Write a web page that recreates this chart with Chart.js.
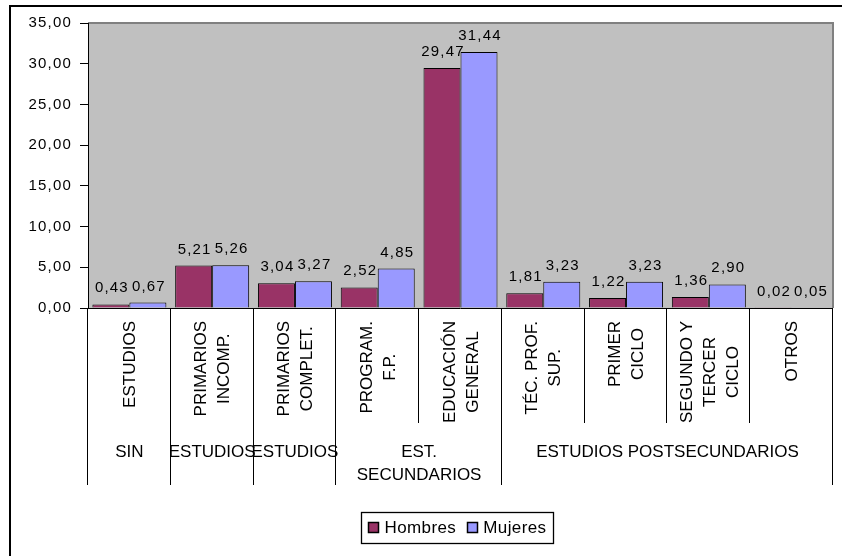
<!DOCTYPE html>
<html><head><meta charset="utf-8">
<script src="https://cdn.jsdelivr.net/npm/chart.js@4.4.0/dist/chart.umd.min.js"></script>
<style>html,body{margin:0;padding:0;background:#fff;}#wrap{width:842px;height:556px;position:relative;}</style>
</head><body><div id="wrap"><canvas id="c" width="842" height="556"></canvas></div>
<script>
const categories = [["ESTUDIOS"],["PRIMARIOS","INCOMP."],["PRIMARIOS","COMPLET."],["PROGRAM.","F.P."],["EDUCACIÓN","GENERAL"],["TÉC. PROF.","SUP."],["PRIMER","CICLO"],["SEGUNDO Y","TERCER","CICLO"],["OTROS"]];
const groupLabels = [["SIN"],["ESTUDIOS"],["ESTUDIOS"],["EST.","SECUNDARIOS"],["ESTUDIOS POSTSECUNDARIOS"]];
const groupSpans = [1,1,1,2,4];
const seriesNames = ["Hombres","Mujeres"];
const hombres = [0.43,5.21,3.04,2.52,29.47,1.81,1.22,1.36,0.02];
const mujeres = [0.67,5.26,3.27,4.85,31.44,3.23,3.23,2.90,0.05];
const yMin = 0, yMax = 35, yStep = 5;
const colors = ['#993366','#9999FF'];
const FONT = '"Liberation Sans", Arial, sans-serif';
function fmt(v){ return Number(v).toFixed(2).replace('.', ','); }

const decor = {
  id: 'decor',
  beforeDraw(chart){
    const ctx = chart.ctx, a = chart.chartArea;
    ctx.save();
    ctx.fillStyle = '#fff'; ctx.fillRect(0,0,chart.width,chart.height);
    ctx.strokeStyle = '#000'; ctx.lineWidth = 2;
    ctx.beginPath(); ctx.moveTo(10, chart.height+2); ctx.lineTo(10,6); ctx.lineTo(chart.width+2,6); ctx.stroke();
    ctx.fillStyle = '#C0C0C0'; ctx.fillRect(a.left,a.top,a.right-a.left,a.bottom-a.top);
    ctx.strokeStyle = '#808080'; ctx.lineWidth = 2;
    ctx.beginPath(); ctx.moveTo(a.left,a.top); ctx.lineTo(a.right,a.top); ctx.lineTo(a.right,a.bottom); ctx.stroke();
    ctx.restore();
    ctx.letterSpacing = '1.2px';
  },
  afterDatasetsDraw(chart){
    const ctx = chart.ctx, a = chart.chartArea, xs = chart.scales.x;
    const n = categories.length;
    const half = (xs.getPixelForValue(1) - xs.getPixelForValue(0)) / 2;
    const bx = i => (i < n ? xs.getPixelForValue(i) - half : xs.getPixelForValue(n-1) + half);
    ctx.save();
    // data labels
    ctx.letterSpacing = '1.2px';
    ctx.font = '15px ' + FONT; ctx.fillStyle = '#000'; ctx.textAlign = 'center'; ctx.textBaseline = 'alphabetic';
    chart.data.datasets.forEach((ds, di) => {
      chart.getDatasetMeta(di).data.forEach((el, i) => {
        ctx.fillText(fmt(ds.data[i]), el.x + 1, el.y - 12);
      });
    });
    // x axis line
    ctx.letterSpacing = '0px';
    ctx.strokeStyle = '#000'; ctx.lineWidth = 1;
    ctx.beginPath(); ctx.moveTo(a.left, Math.round(a.bottom)+0.5); ctx.lineTo(a.right, Math.round(a.bottom)+0.5); ctx.stroke();
    // group boundaries
    const gb = [0]; groupSpans.forEach(s => gb.push(gb[gb.length-1] + s));
    for (let i = 0; i <= n; i++) {
      const x = Math.round(bx(i)) - 0.5;
      const bottom = gb.includes(i) ? 485 : 423;
      ctx.beginPath(); ctx.moveTo(x, a.bottom); ctx.lineTo(x, bottom); ctx.stroke();
    }
    // category labels (rotated)
    ctx.font = '17px ' + FONT; ctx.textAlign = 'center'; ctx.textBaseline = 'middle';
    categories.forEach((lines, i) => {
      const cx = xs.getPixelForValue(i);
      const maxW = Math.max(...lines.map(l => ctx.measureText(l).width));
      const yc = a.bottom + 13 + maxW / 2;
      lines.forEach((l, j) => {
        const x = cx + (j - (lines.length - 1) / 2) * 23 + 1;
        ctx.save(); ctx.translate(x, yc); ctx.rotate(-Math.PI/2); ctx.fillText(l, 0, 0); ctx.restore();
      });
    });
    // group labels
    ctx.textBaseline = 'alphabetic';
    groupLabels.forEach((lines, g) => {
      const cx = (bx(gb[g]) + bx(gb[g+1])) / 2;
      lines.forEach((l, j) => ctx.fillText(l, cx, 457 + j * 23));
    });
    // legend
    ctx.font = '17px ' + FONT; ctx.letterSpacing = '0.4px'; ctx.textAlign = 'left';
    const widths = seriesNames.map(s => ctx.measureText(s).width);
    const mk = 10, gap1 = 6, gap2 = 11, padX = 7;
    const total = padX*2 + mk*2 + gap1*2 + widths[0] + widths[1] + gap2;
    const lx = 457.5 - total/2, ly = 512, lh = 31;
    ctx.strokeStyle = '#000'; ctx.lineWidth = 1.3;
    ctx.strokeRect(Math.round(lx)+0.5, ly+0.5, Math.round(total), lh);
    let x = lx + padX;
    seriesNames.forEach((s, k) => {
      ctx.fillStyle = colors[k]; ctx.fillRect(Math.round(x)+0.5, 522.5, mk, mk);
      ctx.strokeStyle = '#000'; ctx.lineWidth = 1.5; ctx.strokeRect(Math.round(x)+0.5, 522.5, mk, mk);
      x += mk + gap1;
      ctx.fillStyle = '#000'; ctx.fillText(s, x, 533);
      x += widths[k] + gap2;
    });
    ctx.restore();
  },
  afterDraw(chart){ chart.ctx.letterSpacing = '0px'; }
};

new Chart(document.getElementById('c'), {
  type: 'bar',
  data: {
    labels: categories.map(c => c.join(' ')),
    datasets: [
      { label: seriesNames[0], data: hombres, backgroundColor: colors[0], borderColor: '#000', borderWidth: 1 },
      { label: seriesNames[1], data: mujeres, backgroundColor: colors[1], borderColor: '#000', borderWidth: 1 }
    ]
  },
  options: {
    responsive: false,
    animation: false,
    devicePixelRatio: 1,
    layout: { padding: { top: 23, right: 9, bottom: 248, left: 0 } },
    datasets: { bar: { categoryPercentage: 0.894, barPercentage: 1.0 } },
    plugins: { legend: { display: false }, tooltip: { enabled: false } },
    scales: {
      x: { display: false },
      y: {
        min: yMin, max: yMax,
        ticks: { stepSize: yStep, callback: v => fmt(v), color: '#000', font: { family: FONT, size: 15 }, padding: 8 },
        grid: { drawOnChartArea: false, drawTicks: true, tickLength: 8, color: '#000' },
        border: { display: true, color: '#000', width: 1 },
        afterFit(s){ s.width = 88; }
      }
    }
  },
  plugins: [decor]
});
</script></body></html>
